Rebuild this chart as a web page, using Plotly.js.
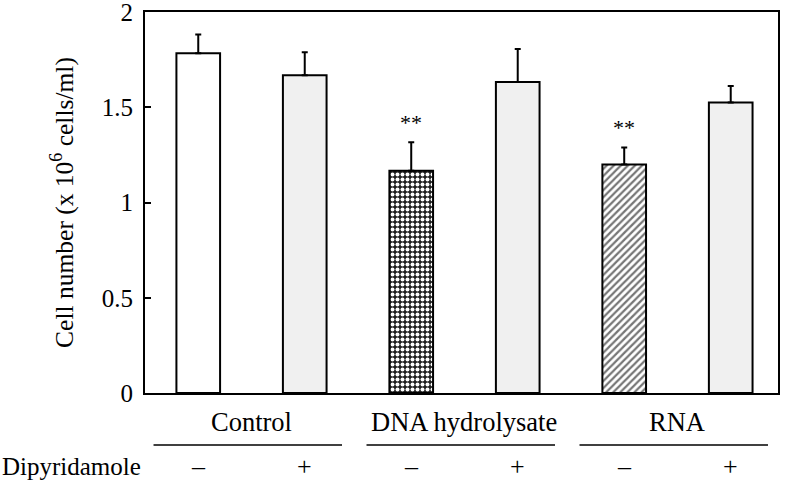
<!DOCTYPE html>
<html>
<head>
<meta charset="utf-8">
<script src="https://cdn.plot.ly/plotly-3.0.1.min.js"></script>
<style>html,body{margin:0;padding:0;background:#fff;}#chart{width:785px;height:486px;}</style>
</head>
<body>
<div id="chart"></div>
<script>
// ---- data ----
const groups = ['Control', 'DNA hydrolysate', 'RNA'];
const dipyridamole = ['\u2013', '+', '\u2013', '+', '\u2013', '+'];
const cellNumber = [1.785, 1.669, 1.167, 1.633, 1.200, 1.526];
const errUpper = [0.098, 0.121, 0.150, 0.174, 0.090, 0.086];
const significance = ['', '', '**', '', '**', ''];
const yTickVals = [0, 0.5, 1, 1.5, 2];
const yTickText = ['0', '0.5', '1', '1.5', '2'];

// ---- styles ----
const patShapes = ['', '', '.', '', '/', ''];
const patFg = ['#000000', '#000000', '#ffffff', '#000000', '#767676', '#000000'];
const patBg = ['#ffffff', '#f0f0f0', '#1e1e1e', '#f0f0f0', '#ffffff', '#f0f0f0'];
const patSize = [6, 6, 5, 6, 5, 6];
const patSolidity = [0.3, 0.3, 0.5, 0.3, 0.45, 0.3];
const FONT = 'Liberation Serif, Times New Roman, serif';

const xIdx = cellNumber.map((_, i) => i);

const traces = xIdx.map(i => {
  const marker = {color: patBg[i], line: {color: '#000', width: 2}};
  if (patShapes[i]) {
    marker.pattern = {shape: patShapes[i], fgcolor: patFg[i], bgcolor: patBg[i],
      size: patSize[i], solidity: patSolidity[i], fillmode: 'replace'};
  }
  return {
    type: 'bar', x: [xIdx[i]], y: [cellNumber[i]], width: 0.41, marker: marker,
    error_y: {type: 'data', symmetric: false, array: [errUpper[i]], arrayminus: [0],
      color: '#000', thickness: 2, width: 3},
    hoverinfo: 'skip'
  };
});

const annotations = [];
xIdx.forEach(i => {
  if (significance[i]) {
    annotations.push({
      x: i, y: cellNumber[i] + errUpper[i], xref: 'x', yref: 'y',
      text: significance[i], showarrow: false, yanchor: 'bottom', yshift: 5,
      font: {family: FONT, size: 22, color: '#000'}
    });
  }
});
xIdx.forEach(i => {
  annotations.push({
    x: i, y: -0.194, xref: 'x', yref: 'paper', text: dipyridamole[i],
    showarrow: false, yanchor: 'middle', font: {family: FONT, size: 26, color: '#000'}
  });
});
annotations.push({
  x: -0.229, y: -0.194, xref: 'paper', yref: 'paper', text: 'Dipyridamole',
  showarrow: false, xanchor: 'left', yanchor: 'middle', font: {family: FONT, size: 25, color: '#000'}
});
const shapes = [];
groups.forEach((g, k) => {
  const c = 2 * k + 0.5;
  annotations.push({
    x: c, y: -0.076, xref: 'x', yref: 'paper', text: g, showarrow: false,
    yanchor: 'middle', font: {family: FONT, size: 26.5, color: '#000'}
  });
  shapes.push({
    type: 'line', xref: 'x', yref: 'paper', x0: c - 0.92, x1: c + 0.85, y0: -0.1365, y1: -0.1365,
    line: {color: '#000', width: 1.5}
  });
});

const layout = {
  width: 785, height: 486,
  margin: {l: 145, r: 7, t: 12, b: 93},
  paper_bgcolor: '#fff', plot_bgcolor: '#fff',
  showlegend: false,
  barmode: 'overlay',
  font: {family: FONT, size: 24, color: '#000'},
  xaxis: {
    range: [-0.5, 5.444], showgrid: false, zeroline: false,
    showticklabels: false, ticks: '', showline: true, linecolor: '#000', linewidth: 2, mirror: true
  },
  yaxis: {
    range: [0, 2.001], tickmode: 'array', tickvals: yTickVals, ticktext: yTickText,
    ticks: 'inside', ticklen: 6, tickwidth: 2, tickcolor: '#000',
    showgrid: false, zeroline: false, showline: true, linecolor: '#000', linewidth: 2, mirror: true,
    tickfont: {family: FONT, size: 25, color: '#000'}, ticklabeloverflow: 'allow', ticklabelstandoff: 5,
    title: {text: 'Cell number (x 10<sup>6</sup> cells/ml)', font: {family: FONT, size: 25.5, color: '#000'}, standoff: 21}
  },
  annotations: annotations,
  shapes: shapes
};

Plotly.newPlot('chart', traces, layout, {displayModeBar: false, staticPlot: true});
</script>
</body>
</html>
